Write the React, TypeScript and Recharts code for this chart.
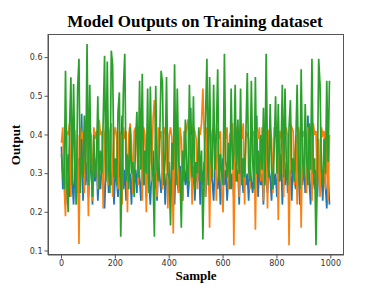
import { LineChart, Line, XAxis, YAxis } from 'recharts';

// every 5th sample of the training run
const sampleStep = 5;

const blueOutput = [
  0.37, 0.26, 0.33, 0.22, 0.30, 0.35, 0.24, 0.31, 0.28, 0.22, 0.33, 0.29, 0.25, 0.34, 0.30, 0.455, 0.23, 0.31, 0.27, 0.33,
  0.24, 0.30, 0.35, 0.22, 0.31, 0.28, 0.34, 0.23, 0.30, 0.26, 0.33, 0.29, 0.21, 0.31, 0.36, 0.25, 0.30, 0.27, 0.34, 0.22,
  0.31, 0.28, 0.24, 0.33, 0.29, 0.45, 0.26, 0.31, 0.23, 0.34, 0.28, 0.30, 0.22, 0.33, 0.27, 0.31, 0.25, 0.35, 0.29, 0.23,
  0.32, 0.27, 0.30, 0.24, 0.34, 0.28, 0.22, 0.31, 0.36, 0.26, 0.30, 0.23, 0.33, 0.29, 0.25, 0.31, 0.34, 0.22, 0.30, 0.27,
  0.33, 0.24, 0.29, 0.31, 0.22, 0.35, 0.28, 0.25, 0.32, 0.30, 0.23, 0.34, 0.27, 0.31, 0.24, 0.29, 0.47, 0.26, 0.32, 0.23,
  0.30, 0.28, 0.34, 0.22, 0.31, 0.27, 0.33, 0.24, 0.30, 0.36, 0.25, 0.31, 0.28, 0.23, 0.33, 0.29, 0.26, 0.32, 0.22, 0.30,
  0.34, 0.27, 0.31, 0.23, 0.29, 0.35, 0.26, 0.30, 0.24, 0.33, 0.28, 0.31, 0.22, 0.36, 0.29, 0.25, 0.32, 0.27, 0.30, 0.23,
  0.33, 0.28, 0.25, 0.31, 0.29, 0.45, 0.24, 0.32, 0.27, 0.30, 0.22, 0.34, 0.28, 0.25, 0.31, 0.29, 0.23, 0.33, 0.27, 0.30,
  0.24, 0.32, 0.28, 0.35, 0.22, 0.30, 0.27, 0.33, 0.25, 0.29, 0.31, 0.23, 0.34, 0.28, 0.26, 0.32, 0.30, 0.22, 0.31, 0.27,
  0.33, 0.25, 0.30, 0.45, 0.28, 0.22, 0.34, 0.29, 0.26, 0.31, 0.24, 0.33, 0.28, 0.30, 0.23, 0.32, 0.27, 0.21, 0.30, 0.22,
];

const orangeOutput = [
  0.38, 0.42, 0.27, 0.19, 0.41, 0.40, 0.43, 0.24, 0.39, 0.42, 0.41, 0.22, 0.40, 0.118, 0.42, 0.39, 0.41, 0.25, 0.43, 0.40,
  0.19, 0.41, 0.40, 0.23, 0.42, 0.39, 0.41, 0.26, 0.44, 0.40, 0.41, 0.21, 0.40, 0.42, 0.39, 0.27, 0.41, 0.43, 0.24, 0.40,
  0.42, 0.39, 0.26, 0.41, 0.40, 0.22, 0.42, 0.39, 0.41, 0.20, 0.40, 0.43, 0.38, 0.25, 0.41, 0.42, 0.39, 0.27, 0.41, 0.40,
  0.23, 0.42, 0.40, 0.20, 0.41, 0.39, 0.42, 0.28, 0.44, 0.49, 0.40, 0.24, 0.42, 0.39, 0.41, 0.26, 0.40, 0.42, 0.39, 0.21,
  0.40, 0.42, 0.39, 0.145, 0.41, 0.40, 0.43, 0.25, 0.42, 0.39, 0.23, 0.41, 0.40, 0.42, 0.44, 0.28, 0.40, 0.22, 0.42, 0.41,
  0.39, 0.26, 0.41, 0.40, 0.43, 0.52, 0.40, 0.24, 0.42, 0.39, 0.16, 0.38, 0.41, 0.42, 0.40, 0.23, 0.42, 0.39, 0.41, 0.25,
  0.20, 0.41, 0.39, 0.42, 0.26, 0.40, 0.41, 0.43, 0.115, 0.39, 0.42, 0.40, 0.24, 0.41, 0.39, 0.43, 0.22, 0.41, 0.40, 0.39,
  0.26, 0.42, 0.40, 0.41, 0.155, 0.41, 0.39, 0.42, 0.28, 0.42, 0.23, 0.40, 0.41, 0.21, 0.41, 0.42, 0.39, 0.25, 0.42, 0.40,
  0.41, 0.18, 0.41, 0.39, 0.43, 0.24, 0.40, 0.42, 0.39, 0.115, 0.40, 0.42, 0.41, 0.27, 0.40, 0.22, 0.42, 0.39, 0.16, 0.41,
  0.40, 0.42, 0.25, 0.42, 0.39, 0.41, 0.23, 0.43, 0.40, 0.41, 0.26, 0.39, 0.24, 0.42, 0.40, 0.41, 0.26, 0.41, 0.23, 0.40,
];

const greenOutput = [
  0.35, 0.30, 0.26, 0.566, 0.28, 0.20, 0.42, 0.549, 0.27, 0.532, 0.31, 0.22, 0.52, 0.597, 0.25, 0.34, 0.29, 0.45, 0.30, 0.635,
  0.27, 0.53, 0.31, 0.24, 0.40, 0.29, 0.33, 0.50, 0.26, 0.36, 0.30, 0.44, 0.605, 0.28, 0.59, 0.32, 0.25, 0.618, 0.58, 0.29,
  0.34, 0.27, 0.46, 0.51, 0.137, 0.31, 0.52, 0.61, 0.28, 0.35, 0.26, 0.42, 0.30, 0.33, 0.24, 0.38, 0.46, 0.29, 0.54, 0.31,
  0.558, 0.27, 0.36, 0.30, 0.52, 0.25, 0.525, 0.33, 0.29, 0.137, 0.527, 0.31, 0.28, 0.40, 0.566, 0.535, 0.27, 0.34, 0.55, 0.30,
  0.29, 0.166, 0.38, 0.31, 0.583, 0.27, 0.52, 0.33, 0.30, 0.16, 0.36, 0.28, 0.44, 0.31, 0.27, 0.53, 0.35, 0.29, 0.50, 0.26,
  0.33, 0.30, 0.42, 0.28, 0.36, 0.13, 0.31, 0.45, 0.597, 0.27, 0.55, 0.34, 0.29, 0.53, 0.31, 0.40, 0.57, 0.28, 0.35, 0.30,
  0.27, 0.61, 0.33, 0.29, 0.38, 0.26, 0.52, 0.31, 0.35, 0.53, 0.28, 0.44, 0.30, 0.52, 0.27, 0.34, 0.29, 0.41, 0.56, 0.31,
  0.28, 0.54, 0.33, 0.26, 0.55, 0.30, 0.36, 0.29, 0.40, 0.31, 0.47, 0.27, 0.61, 0.34, 0.29, 0.48, 0.31, 0.26, 0.37, 0.50,
  0.30, 0.48, 0.28, 0.35, 0.53, 0.29, 0.52, 0.32, 0.27, 0.42, 0.49, 0.30, 0.34, 0.28, 0.38, 0.53, 0.31, 0.26, 0.57, 0.33,
  0.29, 0.48, 0.35, 0.27, 0.43, 0.31, 0.597, 0.30, 0.34, 0.115, 0.29, 0.597, 0.53, 0.31, 0.27, 0.39, 0.30, 0.54, 0.33, 0.54,
];

const xTicks = [0, 200, 400, 600, 800, 1000];
const yTicks = [0.1, 0.2, 0.3, 0.4, 0.5, 0.6];

const chartData = blueOutput.map((v, i) => ({
  sample: i * sampleStep,
  blue: v,
  orange: orangeOutput[i],
  green: greenOutput[i],
}));

const tickStyle = { fontFamily: 'DejaVu Sans', fontSize: 8, fill: '#333' };
const frame = '#555';
const serif = '"Liberation Serif", "Times New Roman", serif';

export default function App() {
  return (
    <div style={{ position: 'absolute', left: 0, top: 0, width: 382, height: 287, background: '#fff' }}>
      <LineChart
        width={382}
        height={287}
        data={chartData}
        margin={{ top: 34, right: 38, bottom: 12, left: 8 }}
      >
        <XAxis
          dataKey="sample"
          type="number"
          domain={[-50, 1049]}
          ticks={xTicks}
          height={20}
          tick={tickStyle}
          tickSize={3.5}
          tickLine={{ stroke: frame }}
          axisLine={{ stroke: frame }}
          allowDataOverflow
        />
        <YAxis
          type="number"
          domain={[0.0897, 0.661]}
          ticks={yTicks}
          width={40}
          tick={tickStyle}
          tickSize={3.5}
          tickLine={{ stroke: frame }}
          axisLine={{ stroke: frame }}
          allowDataOverflow
        />
        <Line dataKey="blue" stroke="#1f77b4" strokeWidth={1.7} dot={false} isAnimationActive={false} />
        <Line dataKey="orange" stroke="#ff7f0e" strokeWidth={1.7} dot={false} isAnimationActive={false} />
        <Line dataKey="green" stroke="#2ca02c" strokeWidth={1.7} dot={false} isAnimationActive={false} />
      </LineChart>
      {/* matplotlib-style box around the plot area */}
      <div
        style={{
          position: 'absolute', left: 48, top: 34, width: 296, height: 221,
          border: `1px solid ${frame}`, boxSizing: 'border-box', pointerEvents: 'none',
        }}
      />
      <div
        style={{
          position: 'absolute', left: 0, width: 390, top: 12, textAlign: 'center',
          fontFamily: serif, fontWeight: 'bold', fontSize: 17, color: '#000', lineHeight: '20px',
        }}
      >
        Model Outputs on Training dataset
      </div>
      <div
        style={{
          position: 'absolute', left: 48, width: 296, top: 268, textAlign: 'center',
          fontFamily: serif, fontWeight: 'bold', fontSize: 13, color: '#000', lineHeight: '16px',
        }}
      >
        Sample
      </div>
      <div
        style={{
          position: 'absolute', left: 16, top: 145, transform: 'translate(-50%, -50%) rotate(-90deg)',
          fontFamily: serif, fontWeight: 'bold', fontSize: 13, color: '#000', lineHeight: '16px', whiteSpace: 'nowrap',
        }}
      >
        Output
      </div>
    </div>
  );
}
